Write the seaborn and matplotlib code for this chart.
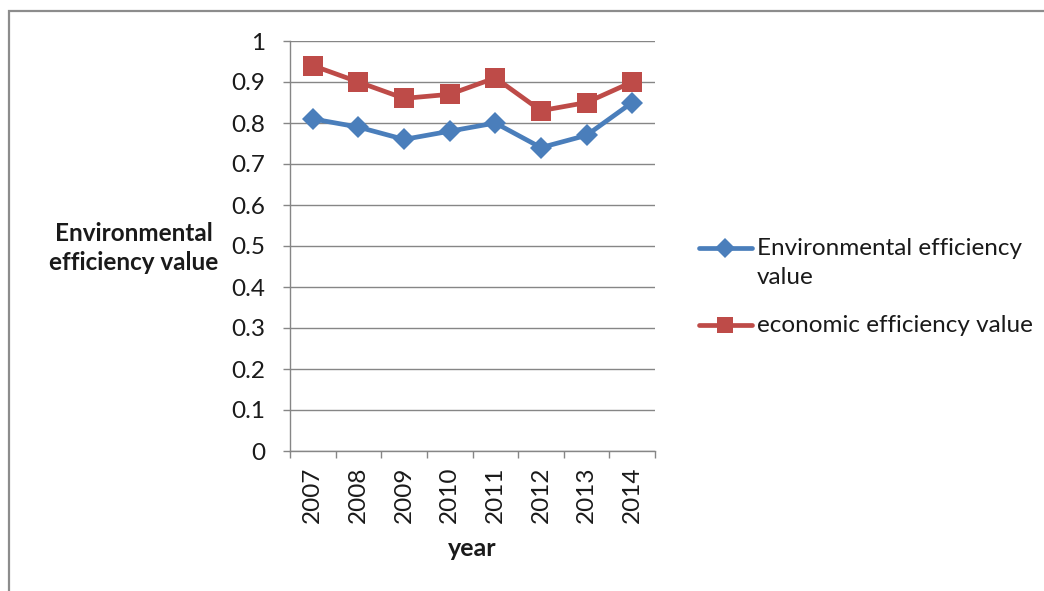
import matplotlib
matplotlib.use("Agg")
import matplotlib.pyplot as plt
import matplotlib.patches as mpatches
from matplotlib.ticker import FixedLocator
import pandas as pd
import seaborn as sns

years = ["2007", "2008", "2009", "2010", "2011", "2012", "2013", "2014"]
environmental = [0.81, 0.79, 0.76, 0.78, 0.80, 0.74, 0.77, 0.85]
economic = [0.94, 0.90, 0.86, 0.87, 0.91, 0.83, 0.85, 0.90]
series_names = ["Environmental efficiency\nvalue", "economic efficiency value"]

sns.set_theme(style="white")
plt.rcParams["font.family"] = ["Lato", "DejaVu Sans"]

df = pd.DataFrame({
    "year": years * 2,
    "value": environmental + economic,
    "series": [series_names[0]] * len(years) + [series_names[1]] * len(years),
})

fig = plt.figure(figsize=(10.44, 5.91), dpi=100)
ax = fig.add_axes([290 / 1044, 140 / 591, 365 / 1044, 410 / 591])

line_colors = ["#4A7EBB", "#BE4B48"]
sns.lineplot(
    data=df, x="year", y="value", hue="series", style="series",
    palette=line_colors, markers=["D", "s"], dashes=False,
    linewidth=3.4, markersize=11, markeredgewidth=0, ax=ax, legend=True,
)
# square markers drawn a little larger than the diamonds
for ln in ax.get_lines():
    if ln.get_marker() == "s":
        ln.set_markersize(14.5)

ax.set_xlim(-0.5, len(years) - 0.5)
ax.set_ylim(0, 1)
ax.set_yticks([i / 10 for i in range(11)])
ax.set_yticklabels(["0"] + [f"{i/10:.1f}" for i in range(1, 10)] + ["1"])
ax.xaxis.set_minor_locator(FixedLocator([i - 0.5 for i in range(len(years) + 1)]))

grey = "#868686"
txt = "#1a1a1a"
ax.grid(axis="y", color=grey, linewidth=1.0)
ax.set_axisbelow(True)
for side in ["top", "right"]:
    ax.spines[side].set_visible(False)
for side in ["left", "bottom"]:
    ax.spines[side].set_color(grey)
    ax.spines[side].set_linewidth(1.0)

ax.tick_params(axis="y", which="major", left=True, length=5, width=1.0,
               color=grey, pad=13, labelsize=17.5, labelcolor=txt)
ax.tick_params(axis="x", which="major", bottom=True, length=0, pad=11,
               labelsize=17.5, labelcolor=txt, labelrotation=90)
ax.tick_params(axis="x", which="minor", bottom=True, length=5, width=1.0,
               color=grey)

ax.set_xlabel("")
ax.set_ylabel("")
fig.text(472 / 1044, 1 - 548 / 591, "year", ha="center", va="center",
         fontsize=18, fontweight="bold", color=txt)
fig.text(134 / 1044, 1 - 248 / 591, "Environmental\nefficiency value",
         ha="center", va="center", fontsize=17.5, fontweight="bold",
         color=txt, linespacing=1.35)

handles, labels = ax.get_legend_handles_labels()
ax.get_legend().remove()
leg = fig.legend(handles, labels, loc="upper left",
                 bbox_to_anchor=(689 / 1044, 1 - 228 / 591),
                 frameon=False, fontsize=17.5, handlelength=2.2,
                 handleheight=1.2, handletextpad=0.2, labelspacing=1.1,
                 borderaxespad=0)
for t in leg.get_texts():
    t.set_color(txt)
    t.set_linespacing(1.5)
# keep each legend handle level with the first line of its label
for col in leg._legend_handle_box.get_children():
    for row in col.get_children():
        row.align = "top"
for h in leg.legend_handles:
    h.set_markersize(10 if h.get_marker() == "D" else 12)

# outer chart frame
fig.patches.append(mpatches.Rectangle(
    (8.5 / 1044, -0.05), 1.2, 1 - 11 / 591 + 0.05,
    transform=fig.transFigure, fill=False, edgecolor="#8c8c8c",
    linewidth=1.6))

fig.savefig("out.png", dpi=100)
